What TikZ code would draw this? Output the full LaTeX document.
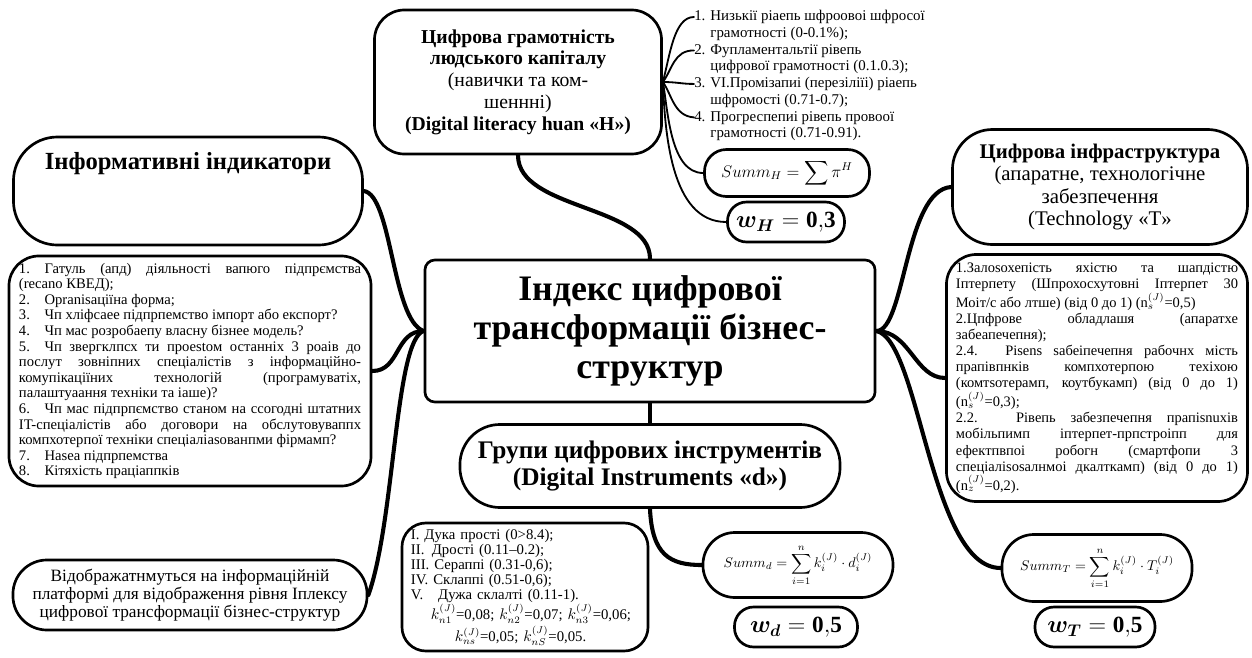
\documentclass[tikz,border=0pt]{standalone}
\usepackage{amsmath}
\usepackage{fontspec}
\setmainfont{Liberation Serif}
\usetikzlibrary{calc}
\hyphenpenalty=10000
\exhyphenpenalty=10000

\tikzset{
  bubble/.style={draw, line width=1.9pt, rounded corners=#1, align=center, inner sep=2pt},
  bubble/.default=0.6cm,
  link/.style={line width=2.9pt},
  thinlink/.style={line width=1.3pt},
  hitem/.style={font=\fontsize{10.6}{11.7}\selectfont, inner sep=0pt, anchor=north west},
  listtext/.style={font=\fontsize{10.4}{11.1}\selectfont, align=justify},
  weightbox/.style={draw, line width=1.9pt, rounded corners=0.48cm, minimum height=1cm, font=\fontsize{16.5}{18}\selectfont},
}

\begin{document}
\begin{tikzpicture}[x=0.025cm, y=-0.025cm, line cap=round]
\useasboundingbox (0,0) rectangle (1252,658);

% centre
\node[bubble=0.25cm, minimum width=11.25cm, minimum height=3.55cm,
  font=\fontsize{25.5}{28}\selectfont\bfseries] (index) at (650,331)
  {Індекс цифрової\\трансформації бізнес-\\структур};

% human capital (top)
\node[bubble=0.75cm, minimum width=7.175cm, minimum height=3.6cm,
  font=\fontsize{14}{15.5}\selectfont] (human) at (518,82)
  {\textbf{Цифрова грамотність}\\\textbf{людського капіталу}\\(навички та ком-\\шеннні)\\\textbf{(Digital literacy huan «H»)}};
\node[hitem] (h1) at (694,9)
  {\begin{tabular}{@{}l@{ }l@{}}1. & Низькії ріаепь шфроовоі шфросої\\ & грамотності (0-0.1\%);\end{tabular}};
\node[hitem] (h2) at (h1.south west)
  {\begin{tabular}{@{}l@{ }l@{}}2. & Фупламентальтії рівепь\\ & цифрової грамотності (0.1.0.3);\end{tabular}};
\node[hitem] (h3) at (h2.south west)
  {\begin{tabular}{@{}l@{ }l@{}}3. & VI.Промізапиі (перезіліїі) ріаепь\\ & шфромості (0.71-0.7);\end{tabular}};
\node[hitem] (h4) at (h3.south west)
  {\begin{tabular}{@{}l@{ }l@{}}4. & Прогреспепиі рівепь провоої\\ & грамотності (0.71-0.91).\end{tabular}};
\node[bubble=0.55cm, minimum width=4.125cm, minimum height=1.175cm,
  font=\fontsize{12}{14}\selectfont] (sumH) at (787,173)
  {$\displaystyle Summ_H = \sum \pi^H$};
\node[weightbox, minimum width=2.925cm] (weightH) at (786,222)
  {$\boldsymbol{w_H} = \mathbf{0,\!3}$};

% left side
\node[bubble=1.1cm, minimum width=8.725cm, minimum height=2.7cm, text depth=1.5cm,
  font=\fontsize{17.5}{20}\selectfont\bfseries] (info) at (188,191)
  {Інформативні індикатори};
\node[bubble=0.75cm, minimum width=9.05cm, minimum height=5.75cm,
  text width=8.55cm, listtext] (questions) at (190,371)
  {1.\hspace{1em}Гатуль (апд) діяльності вапюго підпрємства\linebreak
   (recano КВЕД);\\
   2.\hspace{1em}Opranisaціїна форма;\\
   3.\hspace{1em}Чп хлiфсаее підпрпемство імпорт або експорт?\\
   4.\hspace{1em}Чп мас розробаепу власну бізнее модель?\\
   5.\hspace{1em}Чп звергклпсх ти проеstом останніх 3 роаів до\linebreak
   послут зовніпних спеціалістів з інформаційно-\linebreak
   комупікаціїних технологій (програмуватіх,\linebreak
   палаштуаання техніки та іаше)?\\
   6.\hspace{1em}Чп мас підпрпємство станом на ссогодні штатних\linebreak
   IT-спеціалістів або договори на обслутовуваппх\linebreak
   компхотерпої техніки спеціаліаsованпми фірмамп?\\
   7.\hspace{1em}Hasea підпрпемства\\
   8.\hspace{1em}Кітяхість праціаппків};
\node[bubble=0.85cm, minimum width=8.85cm, minimum height=1.75cm,
  font=\fontsize{12.3}{13}\selectfont] (display) at (190,595)
  {Відображатнмуться на інформаційній\\платформі для відображення рівня Іплексу\\цифрової трансформації бізнес-структур};

% bottom
\node[bubble=1cm, minimum width=9.5cm, minimum height=2.075cm,
  font=\fontsize{18}{19.5}\selectfont\bfseries] (tools) at (650,466)
  {Групи цифрових інструментів\\(Digital Instruments «d»)};
\node[bubble=0.6cm, minimum width=6.15cm, minimum height=3.2cm, text width=5.7cm,
  align=left, font=\fontsize{10.5}{10.8}\selectfont] (levels) at (525,587)
  {I. Дука прості (0>8.4);\\
   II.\enspace Дрості (0.11–0.2);\\
   III. Сераппі (0.31-0,6);\\
   IV. Склаппі (0.51-0,6);\\
   V.\enspace\enspace Дужа склалті (0.11-1).\\
   \hspace*{0.5cm}$k_{n1}^{(J)}$=0,08; $k_{n2}^{(J)}$=0,07; $k_{n3}^{(J)}$=0,06;\\[1pt]
   \hspace*{1.1cm}$k_{ns}^{(J)}$=0,05; $k_{nS}^{(J)}$=0,05.};
\node[bubble=0.8cm, minimum width=4.75cm, minimum height=1.625cm,
  font=\fontsize{10}{12}\selectfont] (sumd) at (798,565)
  {$\displaystyle Summ_d = \sum_{i=1}^{n} k_i^{(J)}\cdot d_i^{(J)}$};
\node[weightbox, minimum width=3.075cm] (weightd) at (796,627)
  {$\boldsymbol{w_d} = \mathbf{0,\!5}$};

% right side
\node[bubble=1cm, minimum width=7.375cm, minimum height=2.875cm,
  font=\fontsize{14.8}{15.8}\selectfont] (infra) at (1100,187)
  {\textbf{Цифрова інфраструктура}\\(апаратне, технологічне\\забезпечення\\(Technology «T»};
\node[bubble=0.75cm, minimum width=7.525cm, minimum height=6.175cm, text width=7.05cm,
  listtext, font=\fontsize{10.3}{11.4}\selectfont] (hardware) at (1097,378)
  {1.Залоsохепість яхістю та шапдістю\linebreak
   Іптерпету (Шпрохосхутовні Іптерпет 30\linebreak
   Моіт/с або лтше) (від 0 до 1) ($\mathrm{n}_s^{(J)}$=0,5)\\
   2.Цпфрове обладлашя (апаратхе\linebreak
   забеапечепня);\\
   2.4. Pisens sабеіпечепня рабочнх мість\linebreak
   прапівпнків компхотерпою техіхою\linebreak
   (комтsотерамп, коутбукамп) (від 0 до 1)\linebreak
   ($\mathrm{n}_s^{(J)}$=0,3);\\
   2.2. Рівепь забезпечепня прапisnuxів\linebreak
   мобільпимп іптерпет-прпстроіпп для\linebreak
   ефектпвпоі робогн (смартфопи 3\linebreak
   спецiалisosалнмоі дкалткамп) (від 0 до 1)\linebreak
   ($\mathrm{n}_z^{(J)}$=0,2).};
\node[bubble=0.8cm, minimum width=4.75cm, minimum height=1.675cm,
  font=\fontsize{10}{12}\selectfont] (sumT) at (1097,568)
  {$\displaystyle Summ_T = \sum_{i=1}^{n} k_i^{(J)}\cdot T_i^{(J)}$};
\node[weightbox, minimum width=3cm] (weightT) at (1095,627)
  {$\boldsymbol{w_T} = \mathbf{0,\!5}$};

% connectors
\draw[link] (index.north) .. controls (650,205) and (518,210) .. (human.south);
\draw[link] (index.west) .. controls (392,320) and (392,195) .. (info.east);
\draw[link] (index.west) .. controls (395,331) and (400,371) .. (questions.east);
\draw[link] (index.west) .. controls (395,340) and (395,520) .. (display.east);
\draw[link] (index.east) .. controls (905,331) and (905,190) .. (infra.west);
\draw[link] (index.east) .. controls (910,331) and (915,378) .. (hardware.west);
\draw[link] (index.east) .. controls (920,340) and (930,568) .. (sumT.west);
\draw[link] (index.south) -- (tools.north);
\draw[link] (tools.south) .. controls (652,555) and (670,565) .. (sumd.west);

\draw[thinlink] (human.east) .. controls (670,55) and (674,17) .. ($(h1.north west)+(0,8)$);
\draw[thinlink] (human.east) .. controls (672,70) and (674,50) .. ($(h2.north west)+(0,8)$);
\draw[thinlink] (human.east) .. controls (677,82) and (682,84) .. ($(h3.north west)+(0,8)$);
\draw[thinlink] (human.east) .. controls (672,95) and (674,116) .. ($(h4.north west)+(0,8)$);
\draw[thinlink] (human.east) .. controls (668,110) and (670,173) .. (sumH.west);
\draw[thinlink] (human.east) .. controls (665,130) and (670,222) .. (weightH.west);
\end{tikzpicture}
\end{document}
